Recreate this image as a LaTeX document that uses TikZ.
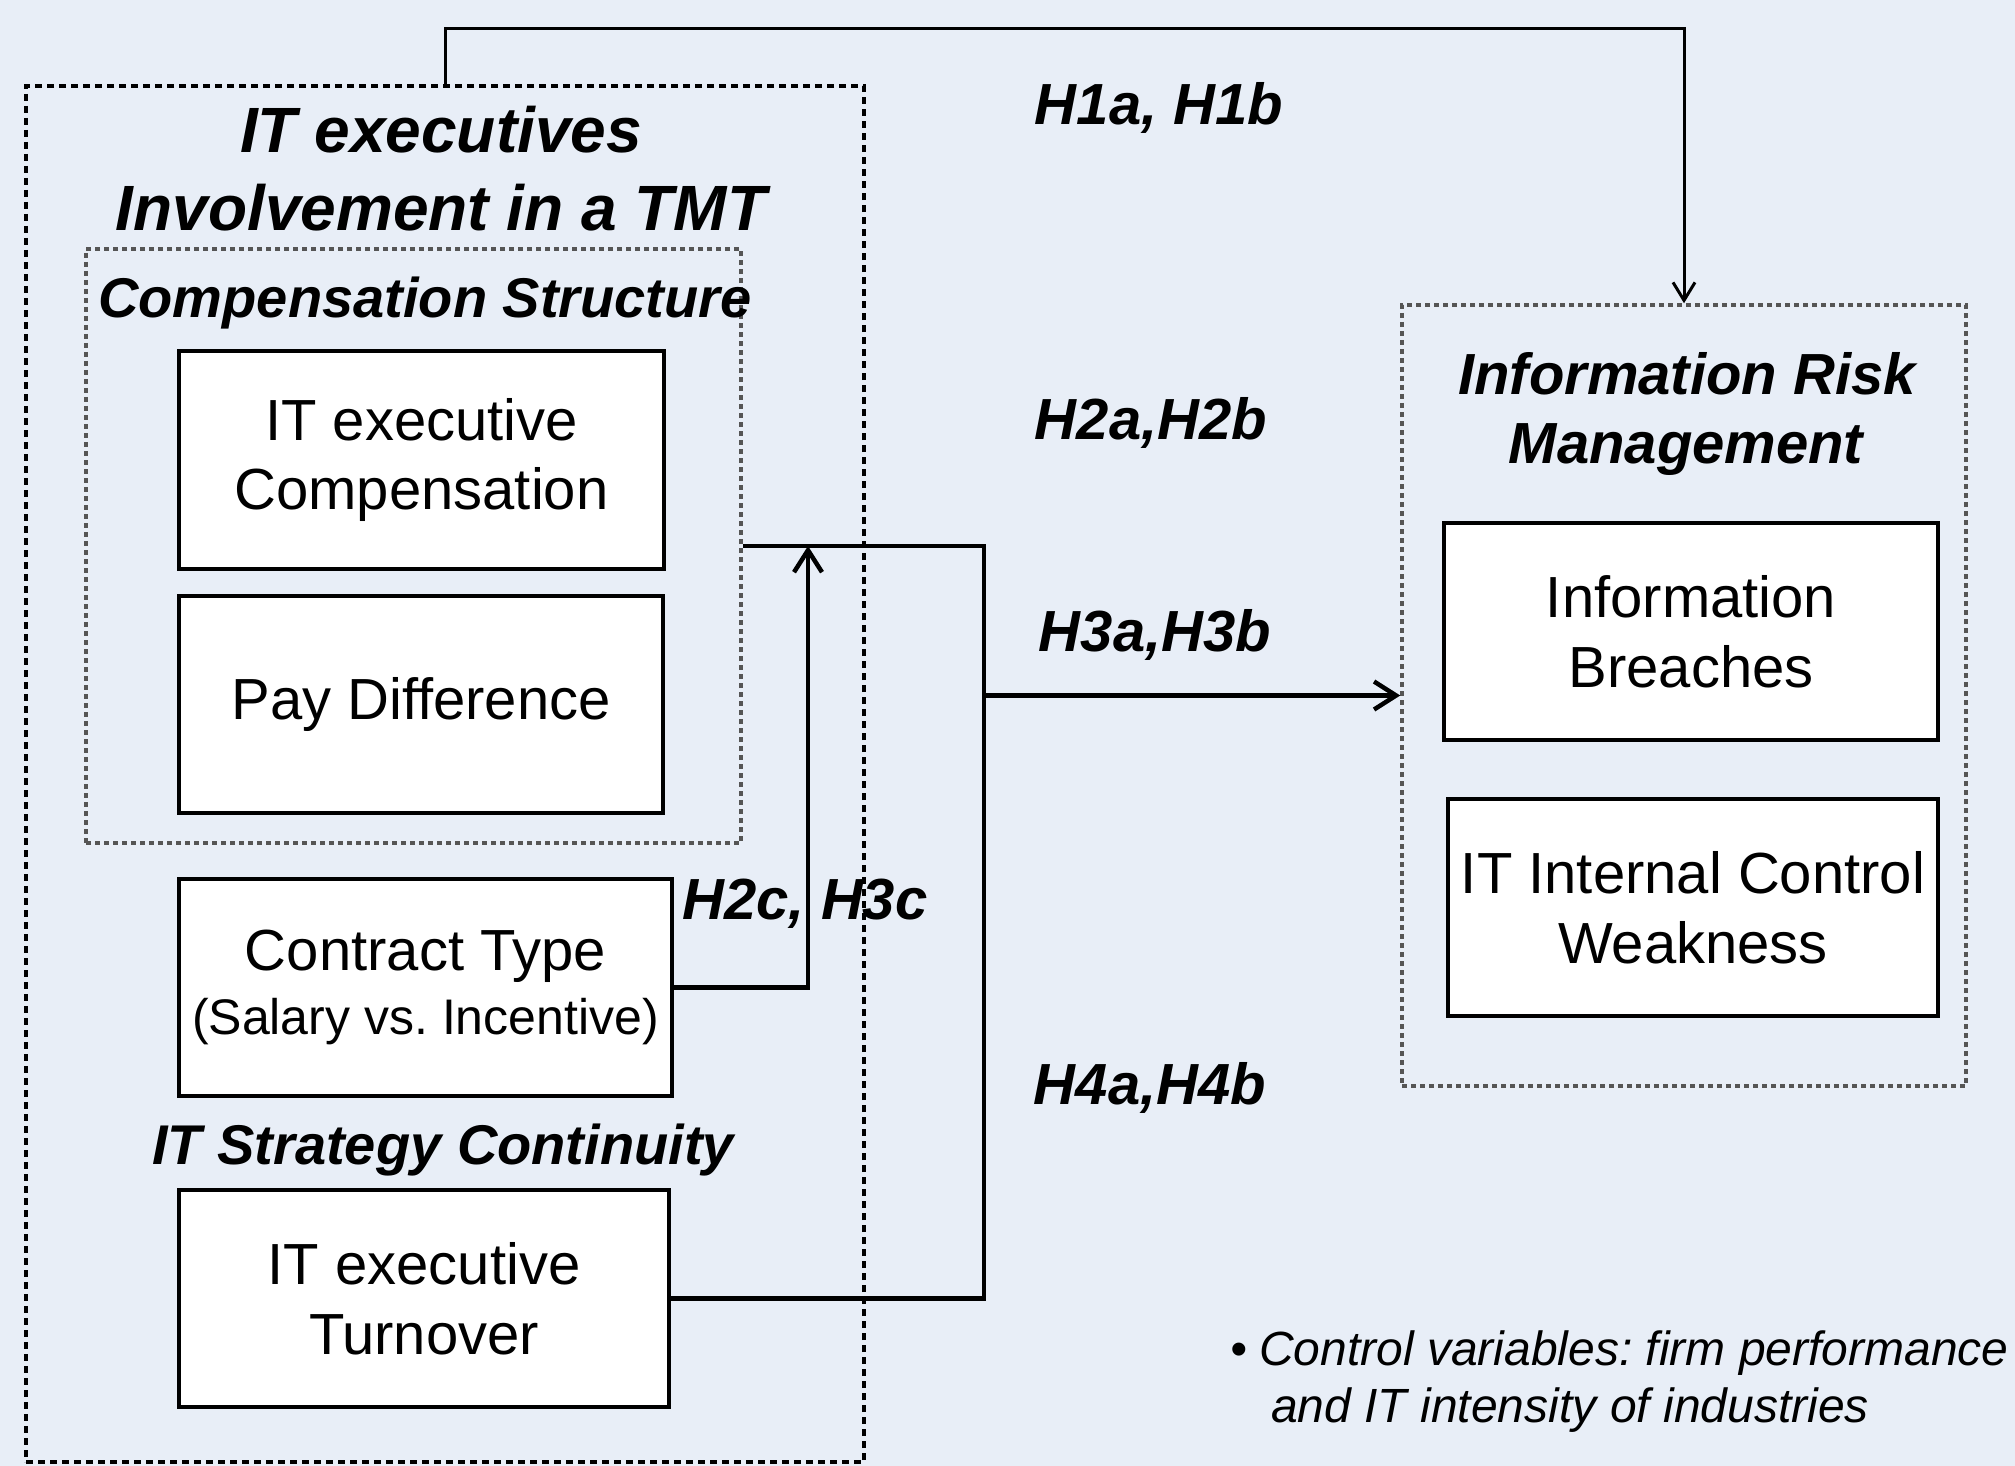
\documentclass[tikz,border=0pt]{standalone}
\usepackage{fontspec}
\setmainfont{Liberation Sans}
\usetikzlibrary{arrows.meta}
\definecolor{bg}{RGB}{232,238,247}
\definecolor{dotgray}{RGB}{85,85,85}
\frenchspacing
\begin{document}
\begin{tikzpicture}[x=1pt,y=-1pt,
  vbox/.style={draw=black,line width=4.5pt,fill=white,inner sep=0pt,align=center,font=\fontsize{58}{70}\selectfont},
  blackdots/.style={draw=black,line width=4.5pt,dash pattern=on 7pt off 5pt,inner sep=0pt},
  graydots/.style={draw=dotgray,line width=3.5pt,dash pattern=on 5pt off 4pt,inner sep=0pt},
  ttl/.style={anchor=base,inner sep=0pt,font=\fontsize{#1}{#1}\selectfont\bfseries\itshape},
  conn/.style={line width=4.5pt},
  thinconn/.style={line width=3pt},
  tip/.style={-{Straight Barb[length=22pt,width=28pt]}},
  note/.style={anchor=base west,inner sep=0pt,font=\fontsize{48}{57}\selectfont\itshape}
]
\path[use as bounding box,fill=bg] (0,0) rectangle (2015,1466);

% labels
\node[ttl=58] (h1) at (1159,125) {H1a, H1b};
\node[ttl=58] (h2) at (1151,439) {H2a,H2b};
\node[ttl=58] (h3) at (1155,651) {H3a,H3b};
\node[ttl=58] (h2c) at (805,919) {H2c, H3c};
\node[ttl=58] (h4) at (1150,1104) {H4a,H4b};

% containers
\node[blackdots,minimum width=838pt,minimum height=1376pt] (outer) at (445,774) {};
\node[graydots,minimum width=655pt,minimum height=594pt] (comp) at (413.5,546) {};
\node[graydots,minimum width=564pt,minimum height=781pt] (risk) at (1684,695.5) {};

% titles
\node[ttl=64] (t1) at (441,153) {IT executives};
\node[ttl=64] (t2) at (441,230) {Involvement in a TMT};
\node[ttl=56] (t3) at (425,317) {Compensation Structure};
\node[ttl=56] (t4) at (443,1164) {IT Strategy Continuity};
\node[ttl=58] (t5) at (1687,394) {Information Risk};
\node[ttl=58] (t6) at (1686,463) {Management};

% variable boxes
\node[vbox,minimum width=485pt,minimum height=218pt] (b1) at (421.5,460) {IT executive\\Compensation};
\node[vbox,minimum width=484pt,minimum height=217pt] (b2) at (421,704.5) {Pay Difference};
\node[vbox,minimum width=493pt,minimum height=217pt] (b3) at (425.5,987.5) {Contract Type\\[-6pt]{\fontsize{50}{60}\selectfont(Salary vs. Incentive)}};
\node[vbox,minimum width=490pt,minimum height=217pt] (b4) at (424,1298.5) {IT executive\\Turnover};
\node[vbox,minimum width=494pt,minimum height=217pt] (ib) at (1691,631.5) {Information\\Breaches};
\node[vbox,minimum width=490pt,minimum height=217pt] (icw) at (1693,907.5) {IT Internal Control\\Weakness};

% connectors
\coordinate (j1) at (984,546);
\coordinate (j2) at (984,1298.5);
\coordinate (m) at (808,546);
\draw[thinconn,-{Straight Barb[length=18pt,width=22pt]}] (outer.north) -- ++(0,-55) -| (risk.north);
\draw[conn] (comp.east) -- (j1) -- (j2) -- (b4.east);
\draw[conn,tip] (risk.west -| j1) -- (risk.west);
\draw[conn,tip] (b3.east) -| (m);

% note
\node[note] (n1) at (1230,1365) {\textbullet\hspace{12pt}Control variables: firm performance};
\node[note] (n2) at (1271,1422) {and IT intensity of industries};
\end{tikzpicture}
\end{document}
